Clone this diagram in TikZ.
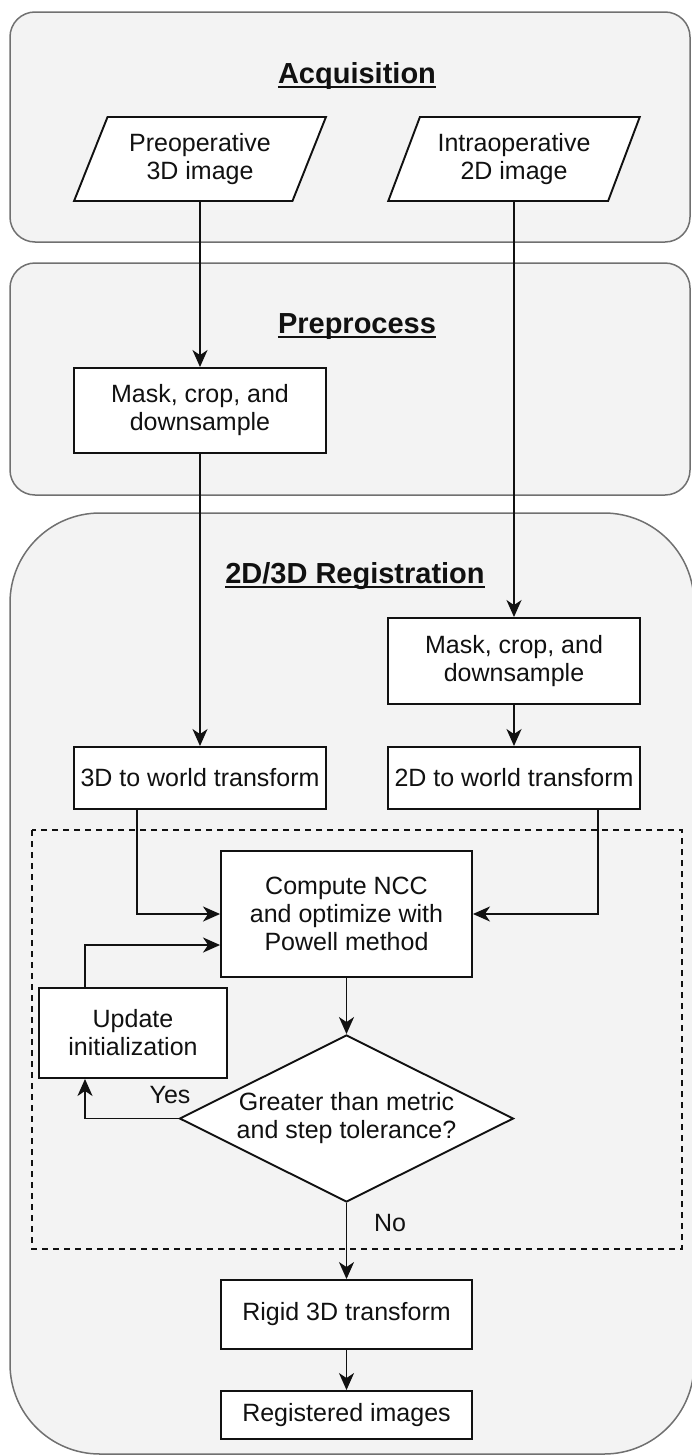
\documentclass[tikz,border=0pt]{standalone}
\usepackage{fontspec}
\setmainfont{Liberation Sans}
\usetikzlibrary{shapes.geometric,arrows.meta,calc}
\definecolor{panelfill}{HTML}{F3F3F3}
\definecolor{panelline}{HTML}{707070}
\definecolor{ink}{HTML}{111111}
\begin{document}
\begin{tikzpicture}[x=1pt,y=-1pt,
  panel/.style={draw=panelline, fill=panelfill, line width=1.5pt},
  box/.style={draw=ink, fill=white, line width=1.9pt, align=center, inner sep=2pt, font=\fontsize{25}{28}\selectfont, text=ink},
  rbox/.style={box, rectangle, minimum width=#1},
  para/.style={box, trapezium, trapezium left angle=64.5, trapezium right angle=115.5, trapezium stretches=true, minimum width=252pt, minimum height=84pt},
  dec/.style={box, diamond, inner sep=0pt, aspect=2, minimum width=334pt, minimum height=167pt},
  title/.style={font=\fontsize{29}{32}\selectfont\bfseries, inner sep=0pt, anchor=base, text=ink},
  uline/.style={line width=1.8pt, draw=ink},
  lbl/.style={font=\fontsize{25}{28}\selectfont, inner sep=0pt, anchor=base, text=ink},
  arr/.style={draw=ink, line width=1.9pt, -{Stealth[length=17pt,width=15pt,inset=5pt]}},
  loopbox/.style={draw=ink, dash pattern=on 6pt off 5pt, line width=1.6pt}
]
\useasboundingbox (0,0) rectangle (692,1456);
\clip (0,0) rectangle (692,1456);

% panels
\draw[panel, rounded corners=25pt] (10,12) rectangle (690,242);
\draw[panel, rounded corners=25pt] (10,263) rectangle (690,495);
\draw[panel, rounded corners=90pt] (10,513) rectangle (694,1454);
\draw[loopbox] (32,830) rectangle (682,1249);

% titles
\node[title] (tacq) at (357,83) {Acquisition};
\node[title] (tpre) at (357,333) {Preprocess};
\node[title] (treg) at (355,583) {2D/3D Registration};
\foreach \t in {tacq,tpre,treg}
  \draw[uline] ([yshift=-4pt]\t.base west) -- ([yshift=-4pt]\t.base east);

% nodes
\node[para] (pre) at (200,159) {Preoperative\\3D image};
\node[para] (intra) at (514,159) {Intraoperative\\2D image};
\node[rbox=252pt, minimum height=85pt] (premask) at (200,410.5) {Mask, crop, and\\downsample};
\node[rbox=252pt, minimum height=86pt] (regmask) at (514,661) {Mask, crop, and\\downsample};
\node[rbox=252pt, minimum height=62pt] (w3d) at (200,778) {3D to world transform};
\node[rbox=252pt, minimum height=62pt] (w2d) at (514,778) {2D to world transform};
\node[rbox=251pt, minimum height=126pt] (ncc) at (346.5,914) {Compute NCC\\and optimize with\\Powell method};
\node[rbox=188pt, minimum height=90pt] (upd) at (133,1033) {Update\\initialization};
\node[dec] (dec) at (346.5,1118.5) {Greater than metric\\and step tolerance?};
\node[rbox=251pt, minimum height=69pt] (rigid) at (346.5,1314.5) {Rigid 3D transform};
\node[rbox=251pt, minimum height=48pt] (reg) at (346.5,1415) {Registered images};

\node[lbl] (yes) at (170,1103) {Yes};
\node[lbl] (no) at (390,1231) {No};

% connectors
\draw[arr] (pre.center |- pre.bottom side) -- (premask.north);
\draw[arr] (intra.center |- intra.bottom side) -- (regmask.north);
\draw[arr] (premask.south) -- (w3d.north);
\draw[arr] (regmask.south) -- (w2d.north);
\draw[arr] ([xshift=-63pt]w3d.south) |- (ncc.west);
\draw[arr] ([xshift=84pt]w2d.south) |- (ncc.east);
\draw[arr] (ncc.south) -- (dec.north);
\draw[arr] (dec.west) -| ([xshift=-48pt]upd.south);
\draw[arr] ([xshift=-48pt]upd.north) |- ([yshift=-31pt]ncc.west);
\draw[arr] (dec.south) -- (rigid.north);
\draw[arr] (rigid.south) -- (reg.north);
\end{tikzpicture}
\end{document}
